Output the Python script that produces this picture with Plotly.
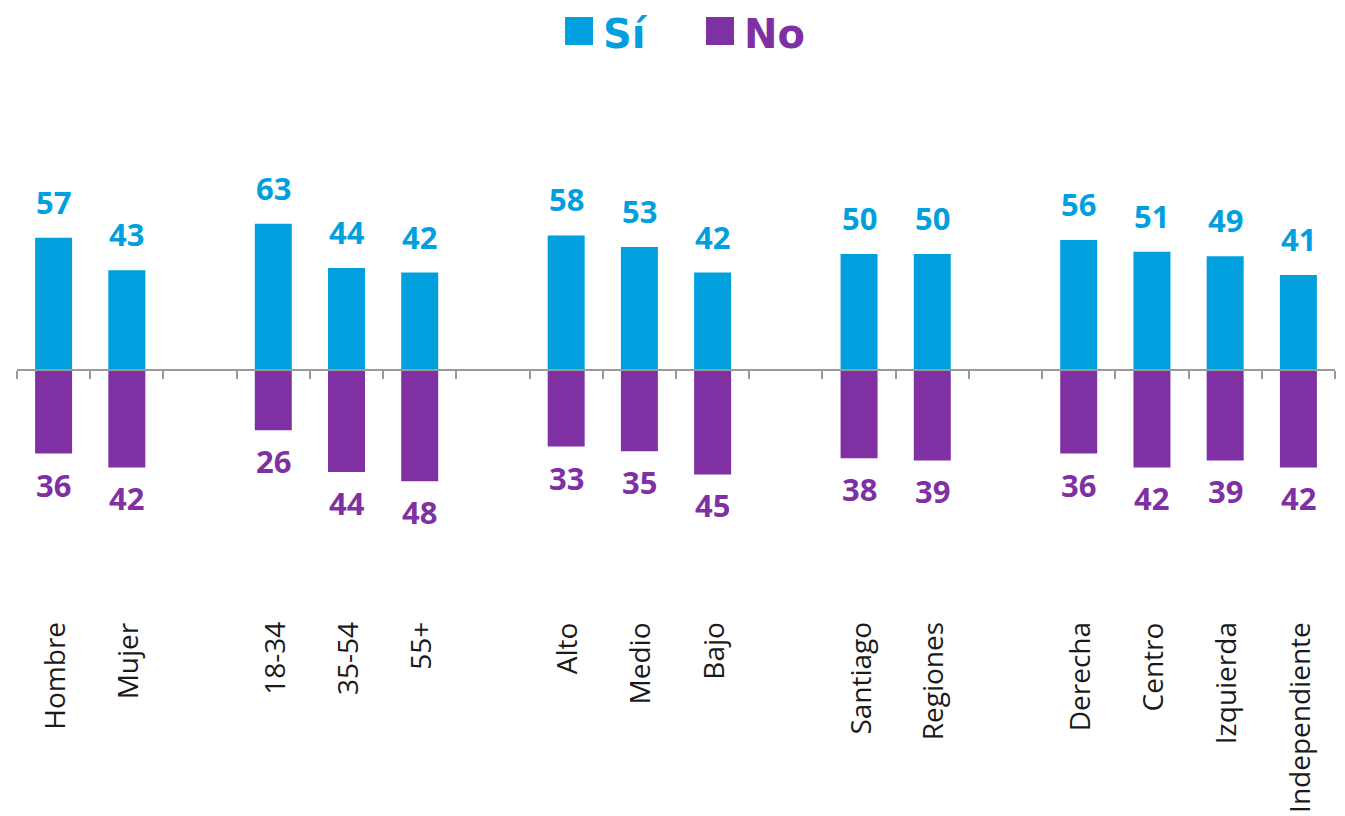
import plotly.graph_objects as go

groups = [
    ["Hombre", "Mujer"],
    ["18-34", "35-54", "55+"],
    ["Alto", "Medio", "Bajo"],
    ["Santiago", "Regiones"],
    ["Derecha", "Centro", "Izquierda", "Independiente"],
]
si_values = [57, 43, 63, 44, 42, 58, 53, 42, 50, 50, 56, 51, 49, 41]
no_values = [36, 42, 26, 44, 48, 33, 35, 45, 38, 39, 36, 42, 39, 42]

BLUE = "#00A0DF"
PURPLE = "#7F30A3"
FONT = "Open Sans"

# slot positions with one empty slot between groups
categories, positions = [], []
slot = 0
for gi, g in enumerate(groups):
    for name in g:
        categories.append(name)
        positions.append(slot)
        slot += 1
    slot += 1
last = max(positions)

fig = go.Figure()
fig.add_trace(go.Bar(x=positions, y=si_values, name="Sí", marker=dict(color=BLUE, line=dict(width=0)),
                     width=0.505, showlegend=False, hoverinfo="skip"))
fig.add_trace(go.Bar(x=positions, y=[-v for v in no_values], name="No",
                     marker=dict(color=PURPLE, line=dict(width=0)), width=0.505,
                     showlegend=False, hoverinfo="skip"))

annotations = []
for p, v in zip(positions, si_values):
    annotations.append(dict(x=p, y=v, xref="x", yref="y", text=f"<b>{v}</b>", showarrow=False,
                            yanchor="bottom", yshift=13, font=dict(family=FONT, size=31, color=BLUE)))
for p, v in zip(positions, no_values):
    annotations.append(dict(x=p, y=-v, xref="x", yref="y", text=f"<b>{v}</b>", showarrow=False,
                            yanchor="top", yshift=-8, font=dict(family=FONT, size=31, color=PURPLE)))
for p, name in zip(positions, categories):
    annotations.append(dict(x=p, y=0.1558, xref="x", yref="paper", text=name, showarrow=False,
                            textangle=-90, yanchor="top", xanchor="center",
                            font=dict(family=FONT, size=28, color="#1a1a1a")))

# legend (page pixel -> paper fraction; plot area spans page x 17..1335, y 100..716)
W = 1318.0
H = 616.0
def px_x(px):
    return (px - 17) / W
def px_y(py):
    return (716 - py) / H

LEG_FONT = "DejaVu Sans"
shapes = [
    dict(type="rect", xref="paper", yref="paper", x0=px_x(565), x1=px_x(593), y0=px_y(45), y1=px_y(17),
         fillcolor=BLUE, line=dict(width=0)),
    dict(type="rect", xref="paper", yref="paper", x0=px_x(706), x1=px_x(734), y0=px_y(45), y1=px_y(17),
         fillcolor=PURPLE, line=dict(width=0)),
]
annotations.append(dict(x=px_x(601), y=px_y(34), xref="paper", yref="paper", text="<b>Sí</b>",
                        showarrow=False, xanchor="left", yanchor="middle",
                        font=dict(family=LEG_FONT, size=40, color=BLUE)))
annotations.append(dict(x=px_x(742), y=px_y(34), xref="paper", yref="paper", text="<b>No</b>",
                        showarrow=False, xanchor="left", yanchor="middle",
                        font=dict(family=LEG_FONT, size=40, color=PURPLE)))

ymax = 270 / 2.32
ymin = -(716 - 370) / 2.32
axis_pos = (0 - ymin) / (ymax - ymin)

fig.update_layout(
    width=1345, height=816,
    margin=dict(l=9, r=18, t=92, b=108),
    paper_bgcolor="white", plot_bgcolor="white",
    barmode="relative",
    showlegend=False,
    xaxis=dict(range=[-0.5, last + 0.5], tickvals=[i - 0.5 for i in range(last + 2)],
               showticklabels=False, ticks="outside", ticklen=8, tickwidth=2, tickcolor="#9a9a9a",
               showline=True, linecolor="#9a9a9a", linewidth=2, showgrid=False, zeroline=False,
               anchor="free", position=axis_pos),
    yaxis=dict(range=[ymin, ymax], visible=False, showgrid=False, zeroline=False),
    annotations=annotations,
    shapes=shapes,
)

fig.write_html("out.html")
